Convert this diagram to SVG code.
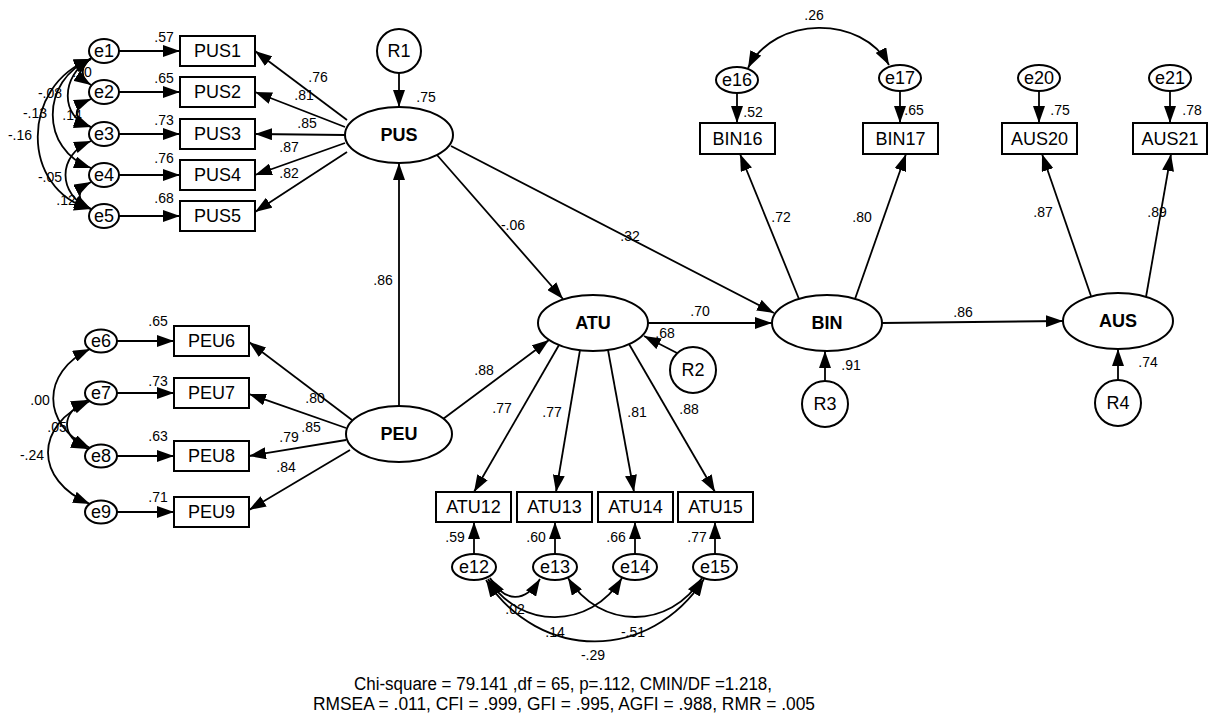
<svg xmlns="http://www.w3.org/2000/svg" width="1208" height="716" viewBox="0 0 1208 716">
<style>
.bx{fill:#fff;stroke:#000;stroke-width:2}
.el{fill:#fff;stroke:#000;stroke-width:2}
.c{fill:none;stroke:#000;stroke-width:1.8;marker-end:url(#ah)}
.cv{fill:none;stroke:#000;stroke-width:1.8;marker-start:url(#ah);marker-end:url(#ah)}
text{font-family:"Liberation Sans",Arial,sans-serif;text-anchor:middle;dominant-baseline:central;fill:#000}
.t{font-size:18px}
.b{font-size:18px;font-weight:bold}
.n{font-size:14px}
.f{font-size:18px}
</style>
<defs>
<marker id="ah" markerUnits="userSpaceOnUse" markerWidth="17" markerHeight="12" refX="17" refY="6" orient="auto-start-reverse" viewBox="0 0 17 12">
<path d="M0,0 L17,6 L0,12 z" fill="#000"/>
</marker>
</defs>
<rect width="1208" height="716" fill="#fff"/>
<g id="labels">
<text class="n" x="164" y="37">.57</text>
<text class="n" x="164" y="78">.65</text>
<text class="n" x="164" y="120">.73</text>
<text class="n" x="164" y="158">.76</text>
<text class="n" x="164" y="198">.68</text>
<text class="n" x="82" y="72">.10</text>
<text class="n" x="50" y="93">-.08</text>
<text class="n" x="35" y="113">-.13</text>
<text class="n" x="72" y="115">.14</text>
<text class="n" x="20" y="135">-.16</text>
<text class="n" x="50" y="177">-.05</text>
<text class="n" x="66" y="200">.12</text>
<text class="n" x="318" y="77">.76</text>
<text class="n" x="304" y="95">.81</text>
<text class="n" x="307" y="123">.85</text>
<text class="n" x="289" y="147">.87</text>
<text class="n" x="289" y="173">.82</text>
<text class="n" x="426" y="97">.75</text>
<text class="n" x="158" y="321">.65</text>
<text class="n" x="158" y="381">.73</text>
<text class="n" x="158" y="436">.63</text>
<text class="n" x="158" y="497">.71</text>
<text class="n" x="40" y="400">.00</text>
<text class="n" x="57" y="427">.05</text>
<text class="n" x="32" y="455">-.24</text>
<text class="n" x="315" y="398">.80</text>
<text class="n" x="311" y="427">.85</text>
<text class="n" x="289" y="437">.79</text>
<text class="n" x="286" y="467">.84</text>
<text class="n" x="383" y="280">.86</text>
<text class="n" x="484" y="370">.88</text>
<text class="n" x="513" y="225">-.06</text>
<text class="n" x="630" y="236">.32</text>
<text class="n" x="700" y="311">.70</text>
<text class="n" x="665" y="333">.68</text>
<text class="n" x="851" y="365">.91</text>
<text class="n" x="781" y="217">.72</text>
<text class="n" x="862" y="217">.80</text>
<text class="n" x="814" y="15">.26</text>
<text class="n" x="753" y="112">.52</text>
<text class="n" x="914" y="110">.65</text>
<text class="n" x="963" y="312">.86</text>
<text class="n" x="1148" y="362">.74</text>
<text class="n" x="1043" y="212">.87</text>
<text class="n" x="1157" y="212">.89</text>
<text class="n" x="1060" y="110">.75</text>
<text class="n" x="1192" y="110">.78</text>
<text class="n" x="502" y="408">.77</text>
<text class="n" x="552" y="412">.77</text>
<text class="n" x="637" y="412">.81</text>
<text class="n" x="689" y="409">.88</text>
<text class="n" x="455" y="537">.59</text>
<text class="n" x="536" y="537">.60</text>
<text class="n" x="616" y="537">.66</text>
<text class="n" x="697" y="537">.77</text>
<text class="n" x="515" y="609">.02</text>
<text class="n" x="555" y="632">.14</text>
<text class="n" x="633" y="632">-.51</text>
<text class="n" x="593" y="655">-.29</text>
</g>
<g id="connectors">
<path class="c" d="M119,51 L180,51"/>
<path class="c" d="M119,92 L180,92"/>
<path class="c" d="M119,134 L180,134"/>
<path class="c" d="M119,175 L180,175"/>
<path class="c" d="M119,216 L180,216"/>
<path class="cv" d="M91,58 C80,66 80,78 91,85"/>
<path class="cv" d="M91,59 C60,75 60,118 91,127"/>
<path class="cv" d="M91,59 C40,80 40,150 91,168"/>
<path class="cv" d="M91,59 C20,85 20,190 91,209"/>
<path class="cv" d="M91,99 C72,107 72,119 91,127"/>
<path class="cv" d="M91,141 C57,155 57,195 91,209"/>
<path class="cv" d="M91,182 C76,190 76,201 91,209"/>
<path class="c" d="M399,73 L399,107"/>
<path class="c" d="M347,120 L255,51"/>
<path class="c" d="M345,127 L255,92"/>
<path class="c" d="M345,135 L255,134"/>
<path class="c" d="M345,143 L255,175"/>
<path class="c" d="M347,152 L255,212"/>
<path class="c" d="M117,341 L174,341"/>
<path class="c" d="M117,393 L174,393"/>
<path class="c" d="M117,456 L174,456"/>
<path class="c" d="M117,512 L174,512"/>
<path class="cv" d="M90,349 C41,372 41,425 90,448"/>
<path class="cv" d="M90,401 C34,425 34,480 90,504"/>
<path class="cv" d="M88,400 C60,412 60,437 88,449"/>
<path class="c" d="M352,420 L249,342"/>
<path class="c" d="M346,428 L249,394"/>
<path class="c" d="M346,440 L249,456"/>
<path class="c" d="M350,450 L249,510"/>
<path class="c" d="M399,406 L399,163"/>
<path class="c" d="M443,419 L549,340"/>
<path class="c" d="M437,155 L563,299"/>
<path class="c" d="M451,146 L774,313"/>
<path class="c" d="M648,323 L772,323"/>
<path class="c" d="M677,353 L644,336"/>
<path class="c" d="M825,381 L825,351"/>
<path class="c" d="M799,299 L740,154"/>
<path class="c" d="M855,299 L906,154"/>
<path class="c" d="M737,93 L737,123"/>
<path class="c" d="M900,91 L900,123"/>
<path class="cv" d="M748,68 C775,15 862,15 889,65"/>
<path class="c" d="M882,323 L1063,321"/>
<path class="c" d="M1118,380 L1118,349"/>
<path class="c" d="M1091,296 L1042,154"/>
<path class="c" d="M1146,297 L1171,154"/>
<path class="c" d="M1039,91 L1039,123"/>
<path class="c" d="M1170,91 L1170,123"/>
<path class="c" d="M559,345 L474,492"/>
<path class="c" d="M580,350 L556,492"/>
<path class="c" d="M608,350 L634,492"/>
<path class="c" d="M629,344 L715,492"/>
<path class="c" d="M474,554 L474,522"/>
<path class="c" d="M555,554 L555,522"/>
<path class="c" d="M635,554 L635,522"/>
<path class="c" d="M715,554 L715,522"/>
<path class="cv" d="M490,578 C505,603 525,603 540,579"/>
<path class="cv" d="M488,579 C520,630 590,630 622,578"/>
<path class="cv" d="M568,578 C600,630 670,630 702,578"/>
<path class="cv" d="M486,580 C540,662 650,662 704,579"/>
</g>
<g id="e1"><ellipse class="el" cx="104" cy="51" rx="15" ry="12"/><text class="t" x="104" y="51">e1</text></g>
<g id="e2"><ellipse class="el" cx="104" cy="92" rx="15" ry="12"/><text class="t" x="104" y="92">e2</text></g>
<g id="e3"><ellipse class="el" cx="104" cy="134" rx="15" ry="12"/><text class="t" x="104" y="134">e3</text></g>
<g id="e4"><ellipse class="el" cx="104" cy="175" rx="15" ry="12"/><text class="t" x="104" y="175">e4</text></g>
<g id="e5"><ellipse class="el" cx="104" cy="216" rx="15" ry="12"/><text class="t" x="104" y="216">e5</text></g>
<g id="PUS1"><rect class="bx" x="180" y="36" width="75" height="30"/><text class="t" x="217.5" y="51">PUS1</text></g>
<g id="PUS2"><rect class="bx" x="180" y="77" width="75" height="30"/><text class="t" x="217.5" y="92">PUS2</text></g>
<g id="PUS3"><rect class="bx" x="180" y="119" width="75" height="30"/><text class="t" x="217.5" y="134">PUS3</text></g>
<g id="PUS4"><rect class="bx" x="180" y="160" width="75" height="30"/><text class="t" x="217.5" y="175">PUS4</text></g>
<g id="PUS5"><rect class="bx" x="180" y="201" width="75" height="30"/><text class="t" x="217.5" y="216">PUS5</text></g>
<g id="R1"><circle class="el" cx="399" cy="51" r="22"/><text class="t" x="399" y="51">R1</text></g>
<g id="PUS"><ellipse class="el" cx="399" cy="135" rx="54" ry="28"/><text class="b" x="399" y="135">PUS</text></g>
<g id="e6"><ellipse class="el" cx="101" cy="341" rx="16" ry="11.5"/><text class="t" x="101" y="341">e6</text></g>
<g id="e7"><ellipse class="el" cx="101" cy="393" rx="16" ry="11.5"/><text class="t" x="101" y="393">e7</text></g>
<g id="e8"><ellipse class="el" cx="101" cy="456" rx="16" ry="11.5"/><text class="t" x="101" y="456">e8</text></g>
<g id="e9"><ellipse class="el" cx="101" cy="512" rx="16" ry="11.5"/><text class="t" x="101" y="512">e9</text></g>
<g id="PEU6"><rect class="bx" x="174" y="326" width="75" height="30"/><text class="t" x="211.5" y="341">PEU6</text></g>
<g id="PEU7"><rect class="bx" x="174" y="378" width="75" height="30"/><text class="t" x="211.5" y="393">PEU7</text></g>
<g id="PEU8"><rect class="bx" x="174" y="441" width="75" height="30"/><text class="t" x="211.5" y="456">PEU8</text></g>
<g id="PEU9"><rect class="bx" x="174" y="497" width="75" height="30"/><text class="t" x="211.5" y="512">PEU9</text></g>
<g id="PEU"><ellipse class="el" cx="399" cy="434" rx="53" ry="28"/><text class="b" x="399" y="434">PEU</text></g>
<g id="ATU"><ellipse class="el" cx="593" cy="323" rx="55" ry="28"/><text class="b" x="593" y="323">ATU</text></g>
<g id="R2"><circle class="el" cx="693" cy="370" r="23"/><text class="t" x="693" y="370">R2</text></g>
<g id="BIN"><ellipse class="el" cx="827" cy="323" rx="55" ry="28"/><text class="b" x="827" y="323">BIN</text></g>
<g id="R3"><circle class="el" cx="825" cy="404" r="23"/><text class="t" x="825" y="404">R3</text></g>
<g id="AUS"><ellipse class="el" cx="1118" cy="321" rx="55" ry="28"/><text class="b" x="1118" y="321">AUS</text></g>
<g id="R4"><circle class="el" cx="1118" cy="403" r="23"/><text class="t" x="1118" y="403">R4</text></g>
<g id="e16"><ellipse class="el" cx="737" cy="80" rx="21" ry="13"/><text class="t" x="737" y="80">e16</text></g>
<g id="e17"><ellipse class="el" cx="900" cy="78" rx="21" ry="13"/><text class="t" x="900" y="78">e17</text></g>
<g id="BIN16"><rect class="bx" x="700" y="123" width="75" height="31"/><text class="t" x="737.5" y="138.5">BIN16</text></g>
<g id="BIN17"><rect class="bx" x="863" y="123" width="75" height="31"/><text class="t" x="900.5" y="138.5">BIN17</text></g>
<g id="e20"><ellipse class="el" cx="1039" cy="78" rx="21" ry="13"/><text class="t" x="1039" y="78">e20</text></g>
<g id="e21"><ellipse class="el" cx="1170" cy="78" rx="21" ry="13"/><text class="t" x="1170" y="78">e21</text></g>
<g id="AUS20"><rect class="bx" x="1002" y="123" width="75" height="31"/><text class="t" x="1039.5" y="138.5">AUS20</text></g>
<g id="AUS21"><rect class="bx" x="1133" y="123" width="74" height="31"/><text class="t" x="1170" y="138.5">AUS21</text></g>
<g id="ATU12"><rect class="bx" x="436" y="492" width="75" height="30"/><text class="t" x="473.5" y="507">ATU12</text></g>
<g id="ATU13"><rect class="bx" x="517" y="492" width="75" height="30"/><text class="t" x="554.5" y="507">ATU13</text></g>
<g id="ATU14"><rect class="bx" x="598" y="492" width="75" height="30"/><text class="t" x="635.5" y="507">ATU14</text></g>
<g id="ATU15"><rect class="bx" x="678" y="492" width="75" height="30"/><text class="t" x="715.5" y="507">ATU15</text></g>
<g id="e12"><ellipse class="el" cx="474" cy="567" rx="22" ry="13"/><text class="t" x="474" y="567">e12</text></g>
<g id="e13"><ellipse class="el" cx="555" cy="567" rx="22" ry="13"/><text class="t" x="555" y="567">e13</text></g>
<g id="e14"><ellipse class="el" cx="635" cy="567" rx="22" ry="13"/><text class="t" x="635" y="567">e14</text></g>
<g id="e15"><ellipse class="el" cx="715" cy="567" rx="22" ry="13"/><text class="t" x="715" y="567">e15</text></g>
<g id="fit">
<text class="f" x="563" y="684" textLength="418" lengthAdjust="spacingAndGlyphs">Chi-square = 79.141 ,df = 65, p=.112, CMIN/DF =1.218,</text>
<text class="f" x="564" y="704" textLength="502" lengthAdjust="spacingAndGlyphs">RMSEA = .011, CFI = .999, GFI = .995, AGFI = .988, RMR = .005</text>
</g>
</svg>
